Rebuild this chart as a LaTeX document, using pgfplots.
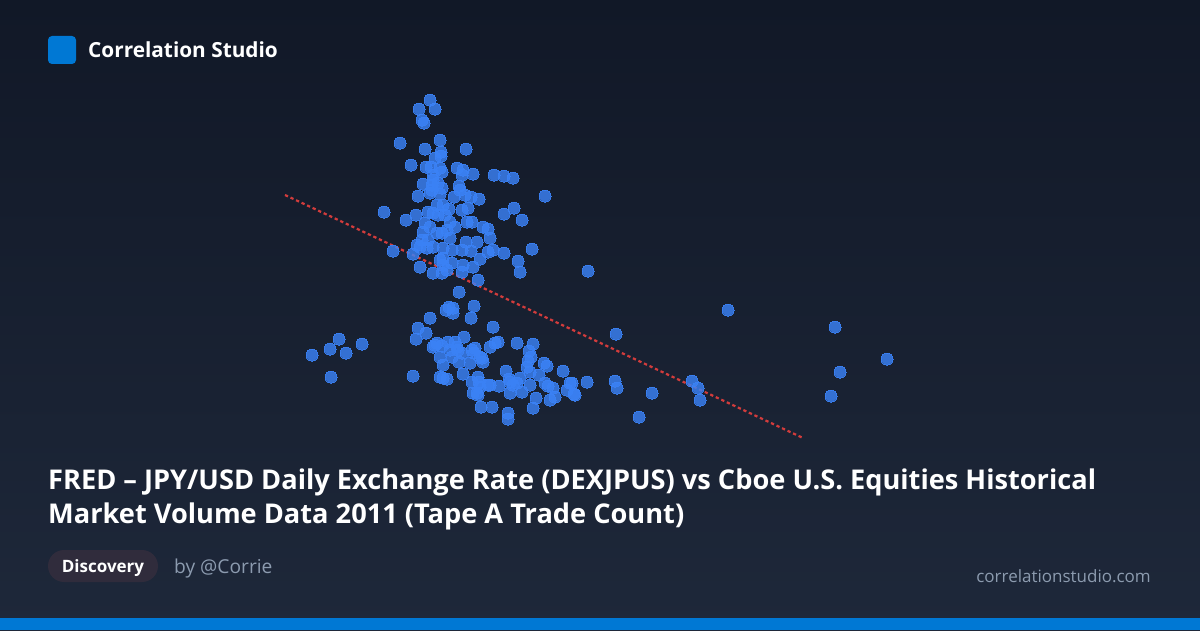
\documentclass[border=0pt]{standalone}
\usepackage{pgfplots}
\pgfplotsset{compat=1.18}
\usepackage{fontspec}
\setmainfont{Open Sans}
\definecolor{bgtop}{RGB}{17,24,39}
\definecolor{bgbot}{RGB}{30,40,58}
\definecolor{brand}{RGB}{0,120,212}
\definecolor{dot}{RGB}{59,130,246}
\definecolor{trend}{RGB}{210,60,60}
\definecolor{pill}{RGB}{48,44,60}
\definecolor{muted}{RGB}{140,155,175}
\begin{document}
\begin{tikzpicture}[x=1pt,y=1pt]
\shade[top color=bgtop,bottom color=bgbot] (0,0) rectangle (1200,630);
\begin{axis}[at={(0,0)},anchor=south west,scale only axis,width=1200pt,height=630pt,
  xmin=0,xmax=1200,ymin=0,ymax=630,y dir=reverse,axis lines=none,clip=false]
\addplot[only marks,mark=*,mark size=6pt,mark options={draw=dot,fill=dot,line width=0pt,opacity=0.82}] coordinates {
(430,100) (419,109) (435,109) (422,120) (424,123) (400,143) (440,140) (425,149) (466,149) (441,152) (441,156) (435,158) (411,165) (426,167) (431,167) (440,168) (442,172) (433,175) (433,180) (457,168) (463,170) (462,175) (473,174) (494,175) (504,176) (513,178) (423,184) (432,185) (438,183) (442,188) (430,193) (418,196) (440,194) (432,190) (459,186) (460,190) (454,197) (465,195) (471,197) (479,199) (545,196)
(384,212) (406,220) (416,215) (428,212) (433,213) (438,215) (445,215) (450,222) (455,227) (462,210) (468,208) (467,222) (472,222) (437,205) (449,209) (443,205)
(504,214) (514,208) (522,220)
(425,223) (430,227) (437,233) (442,233) (447,230) (450,238) (423,232) (422,240) (428,240) (420,247) (427,248) (433,247) (443,248) (452,250) (417,245)
(483,227) (488,229) (490,238)
(466,242) (477,242) (462,250) (471,251) (480,259) (488,252) (493,250) (504,253) (532,249) (393,251) (413,254)
(420,267) (433,273) (442,273) (447,270) (452,263) (463,265) (462,272) (473,267) (443,258) (443,265) (440,260)
(518,261) (520,272) (588,271) (478,280) (459,292)
(449,307) (453,308) (446,310) (453,313) (474,306) (471,318) (430,318) (418,328) (426,333) (416,339) (464,337) (493,327)
(728,310) (616,334) (835,327)
(339,339) (330,349) (346,353) (362,344) (312,355) (331,377) (413,376)
(437,343) (433,347) (442,346) (448,342) (455,342) (450,350) (458,350) (462,353) (440,357) (443,365) (452,357) (459,362) (470,363) (472,350) (475,348) (480,357) (483,362) (474,353) (435,345) (457,347) (482,358) (490,347) (495,343) (498,342)
(517,343) (533,344) (529,351) (531,357) (528,361) (527,367) (530,372) (539,375) (544,363) (547,366) (563,371) (587,382)
(440,377) (443,378) (447,379)
(463,374) (472,382) (478,377) (479,382) (477,393) (473,393) (480,387) (478,395) (488,385) (499,386) (490,385)
(506,371) (510,382) (513,385) (517,383) (522,392) (510,393) (530,385) (509,379) (520,378)
(545,383) (548,386) (553,388) (555,397) (550,400) (567,390) (570,383) (574,394)
(536,398) (533,408) (481,407) (492,407) (508,413) (508,419)
(572,383) (575,395) (615,381) (617,388) (652,393) (639,417) (692,381) (698,388) (700,400)
(887,359) (840,372) (831,396)
};
\addplot[trend,line width=2.2pt,dash pattern=on 3.3pt off 2.8pt] coordinates {(285,195) (803,438)};
\end{axis}
% bottom bar
\fill[brand] (0,0) rectangle (1200,12);
% logo
\fill[brand,rounded corners=4pt] (48,630-64) rectangle (76,630-36);
\node[anchor=base west,text=white,font=\fontsize{20.8}{24}\selectfont\bfseries,inner sep=0pt] at (88,630-58) {Correlation Studio};
% title
\node[anchor=base west,text=white,font=\fontsize{27.2}{34}\selectfont\bfseries,inner sep=0pt] at (48,630-489) {FRED – JPY/USD Daily Exchange Rate (DEXJPUS) vs Cboe U.S. Equities Historical};
\node[anchor=base west,text=white,font=\fontsize{27.2}{34}\selectfont\bfseries,inner sep=0pt] at (48,630-523) {Market Volume Data 2011 (Tape A Trade Count)};
% pill
\fill[pill,rounded corners=16pt] (48,630-582) rectangle (158,630-550);
\node[anchor=base,text=white,font=\fontsize{17}{20}\selectfont\bfseries,inner sep=0pt] at (103,630-572) {Discovery};
\node[anchor=base west,text=muted,font=\fontsize{19.2}{22}\selectfont,inner sep=0pt] at (174,630-573) {by @Corrie};
\node[anchor=base east,text=muted,font=\fontsize{17}{20}\selectfont,inner sep=0pt] at (1151,630-582) {correlationstudio.com};
\end{tikzpicture}
\end{document}
